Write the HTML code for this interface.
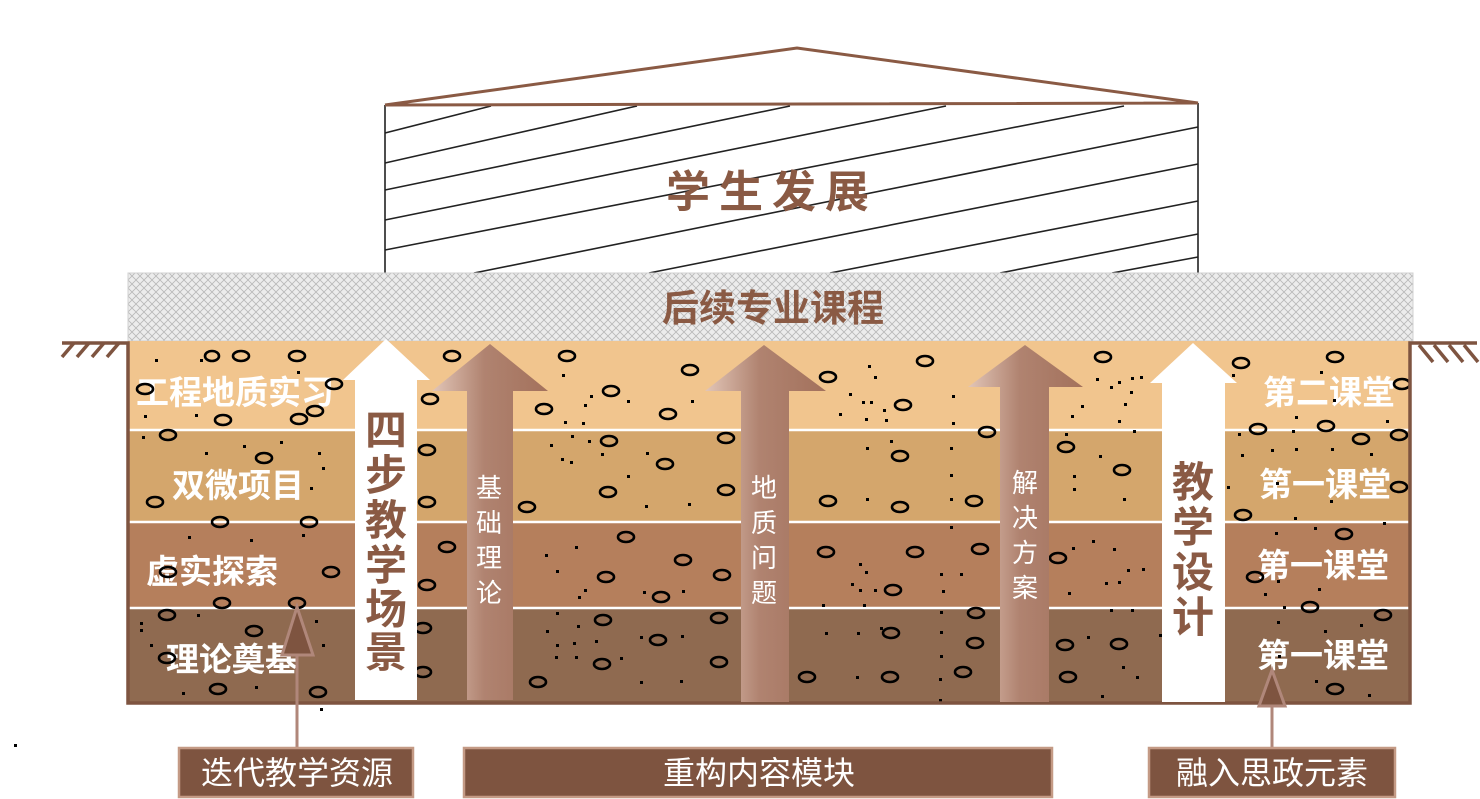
<!DOCTYPE html>
<html><head><meta charset="utf-8"><style>
html,body{margin:0;padding:0;background:#fff;}
svg{display:block;}
text{font-family:"Liberation Sans","Noto Sans CJK SC",sans-serif;}
</style></head><body>
<svg width="1480" height="799" viewBox="0 0 1480 799" xmlns="http://www.w3.org/2000/svg">
<defs>
<pattern id="xh" width="8" height="8" patternUnits="userSpaceOnUse">
<rect width="8" height="8" fill="#ececec"/>
<path d="M0 0L8 8M8 0L0 8" stroke="#b8b8b8" stroke-width="0.8"/>
</pattern>
<linearGradient id="ag" x1="0" y1="0" x2="1" y2="0">
<stop offset="0" stop-color="#e2c6b8"/><stop offset="0.45" stop-color="#b08370"/><stop offset="1" stop-color="#a3715c"/>
</linearGradient>
</defs>

<g stroke="#222" stroke-width="1.6" fill="none">
<line x1="385" y1="105" x2="385" y2="273"/>
<line x1="1198" y1="103" x2="1198" y2="273"/>
<line x1="385" y1="133" x2="491" y2="106"/>
<line x1="385" y1="163" x2="637" y2="106"/>
<line x1="385" y1="190" x2="790" y2="106"/>
<line x1="385" y1="220" x2="946" y2="106"/>
<line x1="385" y1="250" x2="1124" y2="106"/>
<line x1="474" y1="273" x2="1198" y2="127"/>
<line x1="649" y1="273" x2="1198" y2="164"/>
<line x1="830" y1="273" x2="1198" y2="201"/>
<line x1="1000" y1="273" x2="1198" y2="234"/>
<line x1="1112" y1="273" x2="1198" y2="257"/>
</g>
<polyline points="385,105 797,48 1198,103 385,105" fill="none" stroke="#8a5a44" stroke-width="3"/>
<text x="772" y="207" font-size="44" font-weight="bold" fill="#8a5a44" text-anchor="middle" letter-spacing="9">学生发展</text>

<rect x="128" y="273" width="1285" height="68" fill="url(#xh)" stroke="#d0d0d0"/>
<text x="773" y="321" font-size="37" font-weight="bold" fill="#8a5a44" text-anchor="middle">后续专业课程</text>

<rect x="128" y="341" width="1282" height="89" fill="#f1c58e"/>
<rect x="128" y="430" width="1282" height="92" fill="#d4a66c"/>
<rect x="128" y="522" width="1282" height="86" fill="#b57f5c"/>
<rect x="128" y="608" width="1282" height="95" fill="#8f6a50"/>
<g stroke="#fff" stroke-width="2.5">
<line x1="128" y1="430" x2="1410" y2="430"/>
<line x1="128" y1="522" x2="1410" y2="522"/>
<line x1="128" y1="608" x2="1410" y2="608"/>
</g>

<g font-size="33" font-weight="bold" fill="#fff" text-anchor="middle">
<text x="235" y="404">工程地质实习</text>
<text x="238" y="497">双微项目</text>
<text x="212" y="583">虚实探索</text>
<text x="232" y="671">理论奠基</text>
<text x="1329" y="404">第二课堂</text>
<text x="1325" y="496">第一课堂</text>
<text x="1323" y="577">第一课堂</text>
<text x="1323" y="667">第一课堂</text>
</g>

<g fill="none" stroke="#000" stroke-width="2.6">
<ellipse cx="241" cy="356" rx="8" ry="5"/><ellipse cx="297" cy="356" rx="8" ry="5"/><ellipse cx="212" cy="356" rx="7" ry="5"/>
<ellipse cx="145" cy="389" rx="8" ry="5"/><ellipse cx="334" cy="384" rx="8" ry="5"/><ellipse cx="315" cy="411" rx="8" ry="5"/>
<ellipse cx="223" cy="420" rx="8" ry="5"/><ellipse cx="299" cy="419" rx="8" ry="5"/><ellipse cx="430" cy="399" rx="8" ry="5"/>
<ellipse cx="168" cy="435" rx="8" ry="5"/><ellipse cx="264" cy="458" rx="8" ry="5"/><ellipse cx="427" cy="450" rx="8" ry="5"/>
<ellipse cx="155" cy="502" rx="8" ry="5"/><ellipse cx="220" cy="522" rx="8" ry="5"/><ellipse cx="309" cy="522" rx="8" ry="5"/>
<ellipse cx="427" cy="502" rx="8" ry="5"/><ellipse cx="527" cy="507" rx="8" ry="5"/><ellipse cx="447" cy="547" rx="8" ry="5"/>
<ellipse cx="168" cy="572" rx="8" ry="5"/><ellipse cx="331" cy="572" rx="8" ry="5"/><ellipse cx="427" cy="585" rx="8" ry="5"/>
<ellipse cx="222" cy="603" rx="8" ry="5"/><ellipse cx="297" cy="603" rx="8" ry="5"/><ellipse cx="167" cy="615" rx="8" ry="5"/>
<ellipse cx="254" cy="631" rx="8" ry="5"/><ellipse cx="423" cy="628" rx="8" ry="5"/><ellipse cx="167" cy="658" rx="8" ry="5"/>
<ellipse cx="423" cy="672" rx="8" ry="5"/><ellipse cx="538" cy="682" rx="8" ry="5"/><ellipse cx="218" cy="689" rx="8" ry="5"/>
<ellipse cx="318" cy="692" rx="8" ry="5"/>
<ellipse cx="452" cy="356" rx="8" ry="5"/><ellipse cx="567" cy="356" rx="8" ry="5"/><ellipse cx="690" cy="370" rx="8" ry="5"/>
<ellipse cx="611" cy="391" rx="8" ry="5"/><ellipse cx="544" cy="409" rx="8" ry="5"/><ellipse cx="668" cy="414" rx="8" ry="5"/>
<ellipse cx="828" cy="377" rx="8" ry="5"/><ellipse cx="925" cy="361" rx="8" ry="5"/><ellipse cx="903" cy="405" rx="8" ry="5"/>
<ellipse cx="609" cy="441" rx="8" ry="5"/><ellipse cx="726" cy="438" rx="8" ry="5"/><ellipse cx="665" cy="464" rx="8" ry="5"/>
<ellipse cx="987" cy="432" rx="8" ry="5"/><ellipse cx="900" cy="456" rx="8" ry="5"/><ellipse cx="608" cy="492" rx="8" ry="5"/>
<ellipse cx="726" cy="490" rx="8" ry="5"/><ellipse cx="828" cy="501" rx="8" ry="5"/><ellipse cx="900" cy="507" rx="8" ry="5"/>
<ellipse cx="974" cy="501" rx="8" ry="5"/><ellipse cx="626" cy="537" rx="8" ry="5"/><ellipse cx="683" cy="560" rx="8" ry="5"/>
<ellipse cx="606" cy="577" rx="8" ry="5"/><ellipse cx="722" cy="575" rx="8" ry="5"/><ellipse cx="661" cy="597" rx="8" ry="5"/>
<ellipse cx="826" cy="552" rx="8" ry="5"/><ellipse cx="915" cy="552" rx="8" ry="5"/><ellipse cx="980" cy="549" rx="8" ry="5"/>
<ellipse cx="893" cy="590" rx="8" ry="5"/><ellipse cx="603" cy="620" rx="8" ry="5"/><ellipse cx="719" cy="618" rx="8" ry="5"/>
<ellipse cx="658" cy="640" rx="8" ry="5"/><ellipse cx="976" cy="613" rx="8" ry="5"/><ellipse cx="891" cy="633" rx="8" ry="5"/>
<ellipse cx="602" cy="664" rx="8" ry="5"/><ellipse cx="719" cy="662" rx="8" ry="5"/><ellipse cx="807" cy="677" rx="8" ry="5"/>
<ellipse cx="890" cy="677" rx="8" ry="5"/><ellipse cx="963" cy="672" rx="8" ry="5"/><ellipse cx="975" cy="643" rx="8" ry="5"/>
<ellipse cx="1103" cy="357" rx="8" ry="5"/><ellipse cx="1241" cy="363" rx="8" ry="5"/><ellipse cx="1335" cy="357" rx="8" ry="5"/>
<ellipse cx="1402" cy="384" rx="8" ry="5"/><ellipse cx="1258" cy="429" rx="8" ry="5"/><ellipse cx="1326" cy="426" rx="8" ry="5"/>
<ellipse cx="1361" cy="439" rx="8" ry="5"/><ellipse cx="1399" cy="435" rx="8" ry="5"/><ellipse cx="1066" cy="447" rx="8" ry="5"/>
<ellipse cx="1122" cy="470" rx="8" ry="5"/><ellipse cx="1399" cy="487" rx="8" ry="5"/><ellipse cx="1243" cy="515" rx="8" ry="5"/>
<ellipse cx="1344" cy="534" rx="8" ry="5"/><ellipse cx="1058" cy="558" rx="8" ry="5"/><ellipse cx="1255" cy="577" rx="8" ry="5"/>
<ellipse cx="1310" cy="607" rx="8" ry="5"/><ellipse cx="1383" cy="615" rx="8" ry="5"/><ellipse cx="1065" cy="645" rx="8" ry="5"/>
<ellipse cx="1119" cy="644" rx="8" ry="5"/><ellipse cx="1068" cy="677" rx="8" ry="5"/><ellipse cx="1335" cy="689" rx="8" ry="5"/>
</g>
<g fill="#000">
<rect x="155" y="359" width="3" height="3"/><rect x="200" y="359" width="3" height="3"/><rect x="297" y="371" width="3" height="3"/>
<rect x="144" y="415" width="3" height="3"/><rect x="195" y="414" width="3" height="3"/><rect x="142" y="436" width="3" height="3"/>
<rect x="205" y="452" width="3" height="3"/><rect x="243" y="445" width="3" height="3"/><rect x="280" y="441" width="3" height="3"/>
<rect x="318" y="452" width="3" height="3"/><rect x="322" y="467" width="3" height="3"/><rect x="310" y="487" width="3" height="3"/>
<rect x="188" y="536" width="3" height="3"/><rect x="250" y="539" width="3" height="3"/><rect x="302" y="534" width="3" height="3"/>
<rect x="140" y="622" width="3" height="3"/><rect x="140" y="629" width="3" height="3"/><rect x="197" y="614" width="3" height="3"/>
<rect x="315" y="620" width="3" height="3"/><rect x="150" y="644" width="3" height="3"/><rect x="322" y="644" width="3" height="3"/>
<rect x="182" y="692" width="3" height="3"/><rect x="255" y="686" width="3" height="3"/><rect x="320" y="708" width="3" height="3"/>
<rect x="562" y="374" width="3" height="3"/><rect x="590" y="395" width="3" height="3"/><rect x="584" y="404" width="3" height="3"/>
<rect x="582" y="422" width="3" height="3"/><rect x="564" y="421" width="3" height="3"/><rect x="550" y="444" width="3" height="3"/>
<rect x="571" y="435" width="3" height="3"/><rect x="588" y="440" width="3" height="3"/><rect x="561" y="458" width="3" height="3"/>
<rect x="570" y="461" width="3" height="3"/><rect x="601" y="453" width="3" height="3"/><rect x="646" y="452" width="3" height="3"/>
<rect x="627" y="400" width="3" height="3"/><rect x="691" y="400" width="3" height="3"/><rect x="627" y="475" width="3" height="3"/>
<rect x="645" y="505" width="3" height="3"/><rect x="688" y="503" width="3" height="3"/><rect x="545" y="554" width="3" height="3"/>
<rect x="575" y="546" width="3" height="3"/><rect x="556" y="570" width="3" height="3"/><rect x="584" y="589" width="3" height="3"/>
<rect x="578" y="596" width="3" height="3"/><rect x="643" y="591" width="3" height="3"/><rect x="682" y="590" width="3" height="3"/>
<rect x="556" y="612" width="3" height="3"/><rect x="546" y="630" width="3" height="3"/><rect x="577" y="625" width="3" height="3"/>
<rect x="556" y="644" width="3" height="3"/><rect x="573" y="642" width="3" height="3"/><rect x="595" y="640" width="3" height="3"/>
<rect x="640" y="636" width="3" height="3"/><rect x="681" y="635" width="3" height="3"/><rect x="555" y="656" width="3" height="3"/>
<rect x="575" y="656" width="3" height="3"/><rect x="620" y="657" width="3" height="3"/><rect x="640" y="681" width="3" height="3"/>
<rect x="680" y="680" width="3" height="3"/><rect x="868" y="365" width="3" height="3"/><rect x="874" y="376" width="3" height="3"/>
<rect x="849" y="393" width="3" height="3"/><rect x="862" y="401" width="3" height="3"/><rect x="870" y="401" width="3" height="3"/>
<rect x="883" y="409" width="3" height="3"/><rect x="865" y="418" width="3" height="3"/><rect x="885" y="419" width="3" height="3"/>
<rect x="839" y="413" width="3" height="3"/><rect x="952" y="395" width="3" height="3"/><rect x="952" y="422" width="3" height="3"/>
<rect x="866" y="447" width="3" height="3"/><rect x="890" y="440" width="3" height="3"/><rect x="950" y="447" width="3" height="3"/>
<rect x="950" y="474" width="3" height="3"/><rect x="866" y="498" width="3" height="3"/><rect x="950" y="498" width="3" height="3"/>
<rect x="950" y="526" width="3" height="3"/><rect x="859" y="563" width="3" height="3"/><rect x="865" y="571" width="3" height="3"/>
<rect x="851" y="583" width="3" height="3"/><rect x="859" y="589" width="3" height="3"/><rect x="874" y="589" width="3" height="3"/>
<rect x="863" y="604" width="3" height="3"/><rect x="940" y="573" width="3" height="3"/><rect x="960" y="573" width="3" height="3"/>
<rect x="942" y="590" width="3" height="3"/><rect x="822" y="604" width="3" height="3"/><rect x="940" y="611" width="3" height="3"/>
<rect x="825" y="632" width="3" height="3"/><rect x="857" y="632" width="3" height="3"/><rect x="880" y="627" width="3" height="3"/>
<rect x="940" y="631" width="3" height="3"/><rect x="940" y="655" width="3" height="3"/><rect x="856" y="676" width="3" height="3"/>
<rect x="939" y="678" width="3" height="3"/><rect x="939" y="699" width="3" height="3"/>
<rect x="1096" y="378" width="3" height="3"/><rect x="1110" y="386" width="3" height="3"/><rect x="1118" y="381" width="3" height="3"/>
<rect x="1131" y="377" width="3" height="3"/><rect x="1140" y="376" width="3" height="3"/><rect x="1130" y="391" width="3" height="3"/>
<rect x="1124" y="403" width="3" height="3"/><rect x="1081" y="405" width="3" height="3"/><rect x="1071" y="415" width="3" height="3"/>
<rect x="1118" y="420" width="3" height="3"/><rect x="1133" y="430" width="3" height="3"/><rect x="1065" y="433" width="3" height="3"/>
<rect x="1099" y="455" width="3" height="3"/><rect x="1073" y="475" width="3" height="3"/><rect x="1073" y="488" width="3" height="3"/>
<rect x="1123" y="498" width="3" height="3"/><rect x="1072" y="547" width="3" height="3"/><rect x="1092" y="540" width="3" height="3"/>
<rect x="1113" y="548" width="3" height="3"/><rect x="1127" y="569" width="3" height="3"/><rect x="1142" y="568" width="3" height="3"/>
<rect x="1105" y="582" width="3" height="3"/><rect x="1118" y="581" width="3" height="3"/><rect x="1068" y="592" width="3" height="3"/>
<rect x="1110" y="609" width="3" height="3"/><rect x="1131" y="609" width="3" height="3"/><rect x="1159" y="634" width="3" height="3"/>
<rect x="1087" y="636" width="3" height="3"/><rect x="1122" y="666" width="3" height="3"/><rect x="1136" y="676" width="3" height="3"/>
<rect x="1101" y="695" width="3" height="3"/><rect x="1232" y="374" width="3" height="3"/><rect x="1320" y="371" width="3" height="3"/>
<rect x="1333" y="399" width="3" height="3"/><rect x="1295" y="416" width="3" height="3"/><rect x="1386" y="420" width="3" height="3"/>
<rect x="1238" y="433" width="3" height="3"/><rect x="1292" y="430" width="3" height="3"/><rect x="1241" y="454" width="3" height="3"/>
<rect x="1271" y="449" width="3" height="3"/><rect x="1295" y="448" width="3" height="3"/><rect x="1331" y="448" width="3" height="3"/>
<rect x="1370" y="453" width="3" height="3"/><rect x="1227" y="486" width="3" height="3"/><rect x="1276" y="482" width="3" height="3"/>
<rect x="1330" y="500" width="3" height="3"/><rect x="1294" y="517" width="3" height="3"/><rect x="1383" y="522" width="3" height="3"/>
<rect x="1275" y="532" width="3" height="3"/><rect x="1314" y="527" width="3" height="3"/><rect x="1277" y="580" width="3" height="3"/>
<rect x="1264" y="593" width="3" height="3"/><rect x="1318" y="588" width="3" height="3"/><rect x="1283" y="606" width="3" height="3"/>
<rect x="1277" y="621" width="3" height="3"/><rect x="1324" y="630" width="3" height="3"/><rect x="1360" y="624" width="3" height="3"/>
<rect x="1278" y="655" width="3" height="3"/><rect x="1315" y="680" width="3" height="3"/><rect x="1368" y="694" width="3" height="3"/>
<rect x="14" y="744" width="3" height="3"/>
</g>

<g stroke="#7e5440" stroke-width="3.5" fill="none">
<polyline points="62,343 128,343 128,703 1410,703 1410,343 1477,343"/>
<line x1="74" y1="343" x2="62" y2="357"/><line x1="89" y1="343" x2="77" y2="357"/><line x1="104" y1="343" x2="92" y2="357"/><line x1="119" y1="343" x2="107" y2="357"/>
<line x1="1419" y1="345" x2="1433" y2="362"/><line x1="1434" y1="345" x2="1448" y2="362"/><line x1="1449" y1="345" x2="1463" y2="362"/><line x1="1464" y1="345" x2="1478" y2="362"/>
</g>

<polygon points="386,339 430,380 417,380 417,700 355,700 355,380 343,380" fill="#fff"/>
<polygon points="1193,343 1237,383 1225,383 1225,702 1162,702 1162,383 1150,383" fill="#fff"/>
<polygon points="490,344 548,391 513,391 513,700 467,700 467,391 432,391" fill="url(#ag)"/>
<polygon points="764,345 826,391 789,391 789,702 741,702 741,391 705,391" fill="url(#ag)"/>
<polygon points="1025,345 1083,387 1049,387 1049,702 1000,702 1000,387 968,387" fill="url(#ag)"/>

<g font-size="42" font-weight="bold" fill="#8a5a44" text-anchor="middle">
<text x="386" y="445">四</text><text x="386" y="490">步</text><text x="386" y="535">教</text>
<text x="386" y="580">学</text><text x="386" y="624">场</text><text x="386" y="667">景</text>
<text x="1193" y="497">教</text><text x="1193" y="542">学</text><text x="1193" y="587">设</text><text x="1193" y="632">计</text>
</g>
<g font-size="26" fill="#fff" text-anchor="middle">
<text x="489" y="497">基</text><text x="489" y="532">础</text><text x="489" y="567">理</text><text x="489" y="602">论</text>
<text x="764" y="497">地</text><text x="764" y="532">质</text><text x="764" y="567">问</text><text x="764" y="602">题</text>
<text x="1025" y="492">解</text><text x="1025" y="527">决</text><text x="1025" y="562">方</text><text x="1025" y="597">案</text>
</g>

<g stroke="#b0877a" stroke-width="3" fill="#7e5440">
<line x1="297" y1="655" x2="297" y2="748"/>
<polygon points="297,607 313,655 282,655"/>
<line x1="1272" y1="706" x2="1272" y2="748"/>
<polygon points="1272,670 1285,706 1259,706"/>
</g>

<g fill="#7e5440" stroke="#c49a85" stroke-width="2.5">
<rect x="179" y="748" width="234" height="49"/>
<rect x="464" y="748" width="588" height="49"/>
<rect x="1149" y="748" width="246" height="49"/>
</g>
<g font-size="32" fill="#fff" text-anchor="middle">
<text x="297" y="784">迭代教学资源</text>
<text x="759" y="784">重构内容模块</text>
<text x="1272" y="784">融入思政元素</text>
</g>
</svg>
</body></html>
